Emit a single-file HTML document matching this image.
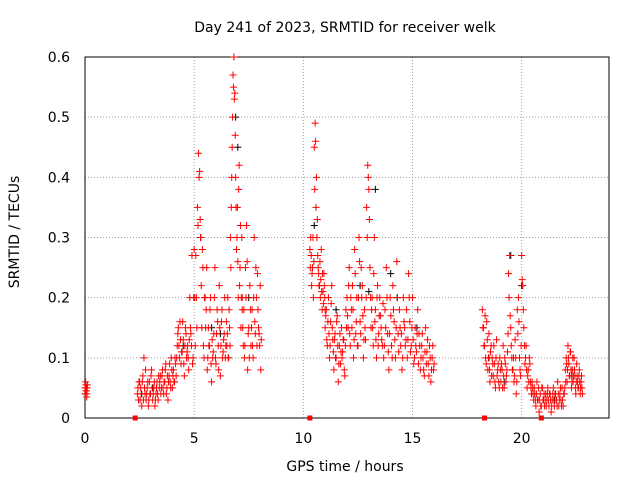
<!DOCTYPE html>
<html><head><meta charset="utf-8"><style>
body{margin:0;background:#fff}
svg{display:block;font-family:"DejaVu Sans","Liberation Sans",sans-serif}
</style></head><body>
<svg id="chart" width="640" height="480"></svg>
<script>
// segment data: start hour, step, values (TECU)
const segStart = [0.0, 2.4, 3.5, 4.2, 5.0, 5.6, 6.5, 7.2, 10.3, 11.0, 12.0, 13.5, 18.2, 19.0, 20.5, 22.0];
const segStep  = [0.02, 0.05, 0.05, 0.05, 0.05, 0.05, 0.04, 0.05, 0.04, 0.05, 0.05, 0.06, 0.05, 0.05, 0.05, 0.04];
const segA = [.05,.04,.055,.045,.035,.05];
const segB = [.04,.03,.06,.05,.02,.07,.1,.04,.03,.05,.02,.06,.04,.08,.03,.05,.02,.04,.06,.03,.05,.07];
const segC = [.05,.08,.04,.06,.09,.05,.03,.07,.06,.1,.05,.08,.06,.09];
const segD = [.1,.14,.12,.16,.09,.11,.13,.07,.15,.1,.12,.08,.2,.14,.27,.1];
const segE = [.28,.12,.2,.35,.44,.41,.3,.15,.25,.1,.2,.18];
const segF = [.08,.15,.12,.2,.06,.1,.14,.25,.09,.18,.12,.22,.07,.16,.1,.13,.2,.12];
const segG = [.12,.2,.1,.15,.3,.35,.45,.57,.6,.54,.4,.28,.35,.2,.42,.25,.15,.3];
const segH = [.2,.12,.1,.25,.32,.08,.15,.22,.12,.18,.1,.3,.14,.2,.24,.15,.12,.08];
const segI = [.28,.3,.22,.25,.2,.45,.49,.35,.3,.27,.24,.22,.2,.28,.18,.21,.24,.2];
const segJ = [.15,.18,.12,.2,.1,.16,.22,.13,.08,.14,.1,.17,.06,.12,.09,.15,.11,.13,.07,.18];
const segK = [.2,.15,.25,.12,.18,.22,.1,.28,.14,.2,.12,.3,.16,.25,.22,.1,.18,.13,.35,.42,.38,.25,.15,.2,.12,.3,.18,.1,.22,.14];
const segL = [.2,.15,.12,.1,.18,.25,.14,.08,.2,.12,.22,.16,.1,.26,.14,.18,.12,.08,.2,.15,.13,.1,.24,.16,.12,.2,.09,.15,.11,.18,.14,.08,.12,.1,.07,.15,.11,.09,.12,.06,.1,.08];
const segM = [.18,.15,.12,.1,.16,.08,.14,.06,.12,.1,.07,.09,.05,.13,.08,.06];
const segN = [.1,.06,.08,.12,.05,.09,.07,.11,.24,.27,.15,.1,.08,.06,.13,.04,.18,.2,.1,.07,.27,.22,.15,.09,.12,.05,.08,.1,.06,.04];
const segO = [.05,.03,.04,.02,.06,.03,.01,.04,.02,.05,.03,.02,.04,.03,.05,.02,.04,.01,.03,.05,.02,.04,.03,.06,.02,.04,.03,.05,.02,.04];
const segP = [.08,.1,.06,.12,.09,.07,.11,.05,.08,.06,.1,.07,.04,.09,.06,.05,.08,.04,.06,.05];
// second interleaved pass of samples
const seg2A = [.04,.06,.045,.05,.04,.055];
const seg2B = [.05,.06,.03,.04,.06,.03,.05,.08,.04,.06,.03,.04,.07,.05,.04,.06,.03,.05,.04,.07,.06,.04];
const seg2C = [.07,.05,.06,.08,.04,.07,.06,.09,.05,.08,.07,.06,.1,.07];
const seg2D = [.12,.15,.1,.13,.11,.16,.09,.12,.14,.11,.1,.13,.15,.12,.09,.2];
const seg2E = [.2,.27,.15,.32,.4,.33,.22,.28,.12,.2,.15,.25];
const seg2F = [.1,.12,.18,.09,.13,.11,.2,.1,.14,.16,.08,.15,.12,.18,.11,.14,.1,.16];
const seg2G = [.14,.1,.18,.12,.25,.4,.5,.55,.53,.47,.35,.3,.26,.38,.22,.32,.2,.18];
const seg2H = [.15,.18,.12,.2,.26,.14,.1,.18,.15,.12,.2,.16,.25,.12,.18,.14,.22,.13];
const seg2I = [.25,.27,.24,.3,.26,.38,.46,.4,.33,.25,.22,.26,.23,.21,.24,.19,.22,.18];
const seg2J = [.17,.13,.16,.14,.12,.19,.15,.11,.13,.1,.16,.12,.09,.14,.11,.1,.13,.08,.12,.15];
const seg2K = [.17,.22,.14,.2,.15,.18,.13,.24,.16,.12,.2,.26,.14,.2,.17,.13,.15,.2,.3,.4,.33,.2,.18,.15,.24,.16,.13,.2,.12,.17];
const seg2L = [.17,.13,.19,.12,.15,.2,.11,.14,.17,.1,.18,.13,.15,.2,.11,.15,.14,.1,.16,.12,.18,.13,.2,.11,.15,.13,.1,.12,.14,.09,.12,.1,.14,.08,.11,.09,.13,.07,.1,.08,.12,.09];
const seg2M = [.15,.12,.17,.09,.13,.1,.08,.11,.07,.09,.12,.06,.1,.07,.09,.05];
const seg2N = [.08,.09,.05,.07,.1,.06,.08,.14,.2,.17,.12,.08,.1,.07,.1,.06,.14,.16,.08,.12,.23,.18,.12,.1,.08,.07,.06,.09,.05,.06];
const seg2O = [.04,.05,.03,.04,.03,.05,.03,.02,.05,.03,.04,.03,.02,.04,.03,.04,.03,.02,.04,.03,.04,.03,.02,.04,.03,.05,.02,.03,.04,.05];
const seg2P = [.06,.09,.08,.1,.07,.11,.08,.06,.1,.07,.08,.05,.06,.07,.05,.07,.06,.05,.07,.04];
const segValues = [segA,segB,segC,segD,segE,segF,segG,segH,segI,segJ,segK,segL,segM,segN,segO,segP];
const seg2Values = [seg2A,seg2B,seg2C,seg2D,seg2E,seg2F,seg2G,seg2H,seg2I,seg2J,seg2K,seg2L,seg2M,seg2N,seg2O,seg2P];
const blackT = [2.6,3.1,4.5,5.3,5.8,6.9,7.0,7.5,10.5,11.5,12.6,13.3,14.3,15.2,18.5,19.5,20.0,21.5,22.3,6.2,13.0,14.0,19.2];
const blackV = [.04,.05,.12,.3,.15,.5,.45,.2,.32,.18,.22,.38,.2,.15,.1,.27,.22,.03,.07,.14,.21,.24,.06];
const gapT = [2.3,10.3,18.3,20.9];
const xTicks = [0,5,10,15,20];
const yTicks = [0,0.1,0.2,0.3,0.4,0.5,0.6];

const X0=85,X1=609,Y0=418,Y1=57;
const xs = h => X0 + h/24*(X1-X0);
const ys = v => Y0 - v/0.6*(Y0-Y1);
const svg=document.getElementById('chart');
const NS='http://www.w3.org/2000/svg';
function mk(tag,attrs,parent){const e=document.createElementNS(NS,tag);for(const k in attrs)e.setAttribute(k,attrs[k]);(parent||svg).appendChild(e);return e;}

yTicks.forEach(v=>{
  const y=ys(v);
  if(v>0&&v<0.6){const g=mk('line',{x1:X0,x2:X1,y1:y,y2:y,stroke:'#a0a0a0','stroke-dasharray':'1,2'});
  
  }
  const t=mk('text',{x:70,y:y+5,'text-anchor':'end','font-size':'14',fill:'#000'});
  t.textContent=String(v);
  
  
});
xTicks.forEach(h=>{
  const x=xs(h);
  if(h>0){const g=mk('line',{x1:x,x2:x,y1:Y0,y2:Y1,stroke:'#a0a0a0','stroke-dasharray':'1,2'});
  
  }
  const t=mk('text',{x:x,y:443,'text-anchor':'middle','font-size':'14',fill:'#000'});
  t.textContent=String(h);
  
  
});
const fr=mk('rect',{x:X0,y:Y1,width:X1-X0,height:Y0-Y1,fill:'none',stroke:'#000'});



function plus(x,y,c){
  return mk('path',{d:`M${x-3.5},${y}h7M${x},${y-3.5}v7`,stroke:c,'stroke-width':'1'});
}
blackT.forEach((h,i)=>{
  const p=plus(xs(h),ys(blackV[i]),'#000');
  
  
});
segValues.forEach((arr,s)=>{
  arr.forEach((v,i)=>{
    const h=segStart[s]+i*segStep[s];
    const p=plus(xs(h),ys(v),'#f00');
    
    
  });
});
seg2Values.forEach((arr,s)=>{
  arr.forEach((v,i)=>{
    const h=segStart[s]+(i+0.5)*segStep[s];
    const p=plus(xs(h),ys(v),'#f00');
    
    
  });
});
gapT.forEach(h=>{
  const r=mk('rect',{x:xs(h)-2.5,y:Y0-2.5,width:5,height:5,fill:'#f00'});
  
  
});

const title=mk('text',{x:345,y:32,'text-anchor':'middle','font-size':'14'});
title.textContent='Day 241 of 2023, SRMTID for receiver welk';


const xl=mk('text',{x:345,y:471,'text-anchor':'middle','font-size':'14'});
xl.textContent='GPS time / hours';


const yl=mk('text',{x:19,y:232,'text-anchor':'middle','font-size':'14',transform:'rotate(-90 19 232)'});
yl.textContent='SRMTID / TECUs';


</script>
</body></html>
